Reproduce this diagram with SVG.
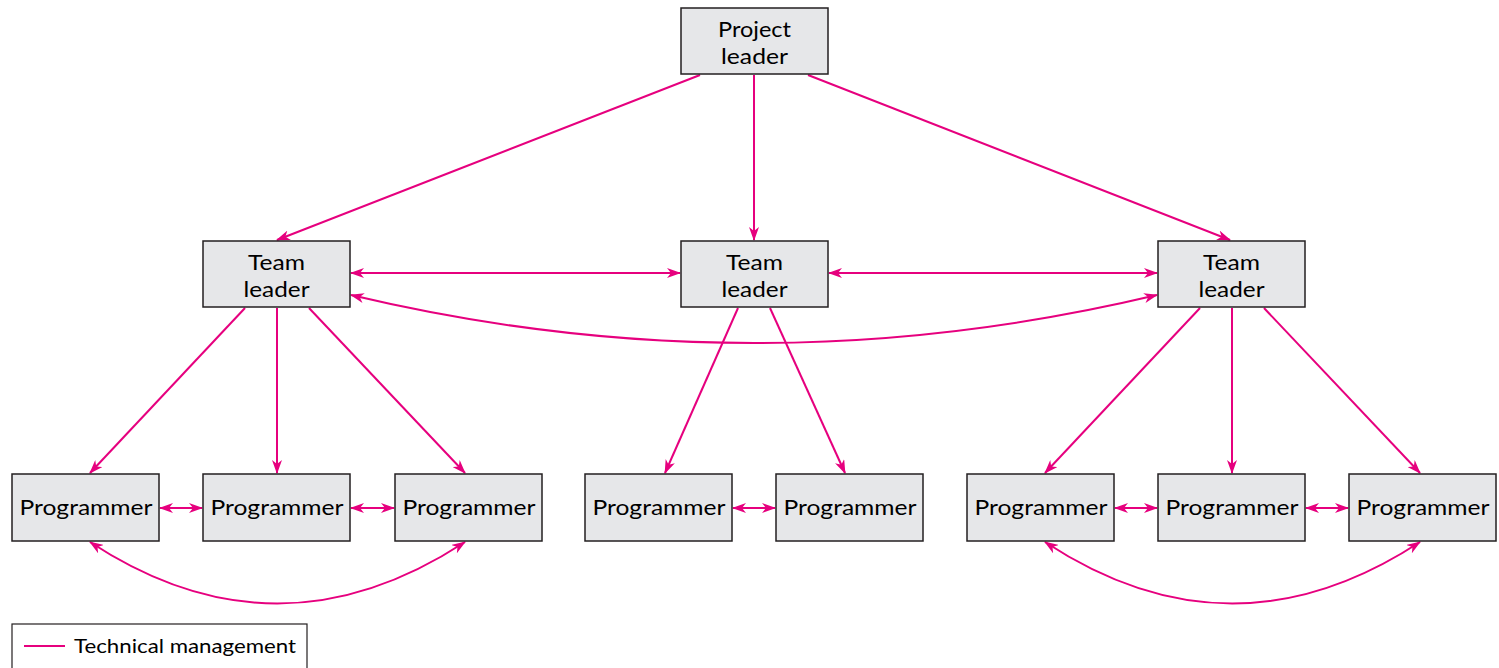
<svg xmlns="http://www.w3.org/2000/svg" width="1499" height="668" viewBox="0 0 1499 668">
<style>
.box{fill:#e6e7e9;stroke:#231f20;stroke-width:1.5}
.t{font-family:Lato,"Open Sans",sans-serif;font-size:22px;fill:#000;text-anchor:middle}
.p{font-family:Lato,"Open Sans",sans-serif;font-size:22px;fill:#000;text-anchor:middle}
.c{fill:none;stroke:#e6007e;stroke-width:2}
</style>
<defs>
<marker id="ah" viewBox="0 0 14 10" refX="13" refY="5" markerWidth="14" markerHeight="10" markerUnits="userSpaceOnUse" orient="auto-start-reverse">
<path d="M0,0 L14,5 L0,10 L4,5 z" fill="#e6007e"/>
</marker>
</defs>
<g id="connectors">
<line class="c" x1="700" y1="75" x2="277" y2="240" marker-end="url(#ah)"/>
<line class="c" x1="754" y1="75" x2="754" y2="240" marker-end="url(#ah)"/>
<line class="c" x1="808" y1="75" x2="1230" y2="240" marker-end="url(#ah)"/>
<line class="c" x1="351" y1="273" x2="680" y2="273" marker-start="url(#ah)" marker-end="url(#ah)"/>
<line class="c" x1="829" y1="273" x2="1157" y2="273" marker-start="url(#ah)" marker-end="url(#ah)"/>
<path class="c" d="M351,295 Q754,391 1157,295" marker-start="url(#ah)" marker-end="url(#ah)"/>
<line class="c" x1="245" y1="308" x2="90" y2="473" marker-end="url(#ah)"/>
<line class="c" x1="277" y1="308" x2="277" y2="473" marker-end="url(#ah)"/>
<line class="c" x1="309" y1="308" x2="465" y2="473" marker-end="url(#ah)"/>
<line class="c" x1="738" y1="308" x2="665" y2="473" marker-end="url(#ah)"/>
<line class="c" x1="770" y1="308" x2="845" y2="473" marker-end="url(#ah)"/>
<line class="c" x1="1200" y1="308" x2="1045" y2="473" marker-end="url(#ah)"/>
<line class="c" x1="1232" y1="308" x2="1232" y2="473" marker-end="url(#ah)"/>
<line class="c" x1="1264" y1="308" x2="1420" y2="473" marker-end="url(#ah)"/>
<line class="c" x1="160" y1="508" x2="202" y2="508" marker-start="url(#ah)" marker-end="url(#ah)"/>
<line class="c" x1="351" y1="508" x2="394" y2="508" marker-start="url(#ah)" marker-end="url(#ah)"/>
<line class="c" x1="733" y1="508" x2="775" y2="508" marker-start="url(#ah)" marker-end="url(#ah)"/>
<line class="c" x1="1115" y1="508" x2="1157" y2="508" marker-start="url(#ah)" marker-end="url(#ah)"/>
<line class="c" x1="1306" y1="508" x2="1348" y2="508" marker-start="url(#ah)" marker-end="url(#ah)"/>
<path class="c" d="M90,542 Q277,665 465,542" marker-start="url(#ah)" marker-end="url(#ah)"/>
<path class="c" d="M1045,542 Q1232,665 1420,542" marker-start="url(#ah)" marker-end="url(#ah)"/>
</g>
<g id="project-leader"><rect class="box" x="681" y="8" width="147" height="66"/><text class="t" x="754.5" y="37" textLength="73" lengthAdjust="spacingAndGlyphs">Project</text><text class="t" x="754.5" y="63.5" textLength="67" lengthAdjust="spacingAndGlyphs">leader</text></g>
<g id="team-leader-1"><rect class="box" x="203" y="241" width="147" height="66"/><text class="t" x="276.5" y="270" textLength="57" lengthAdjust="spacingAndGlyphs">Team</text><text class="t" x="276.5" y="296.5" textLength="66" lengthAdjust="spacingAndGlyphs">leader</text></g>
<g id="team-leader-2"><rect class="box" x="681" y="241" width="147" height="66"/><text class="t" x="754.5" y="270" textLength="57" lengthAdjust="spacingAndGlyphs">Team</text><text class="t" x="754.5" y="296.5" textLength="66" lengthAdjust="spacingAndGlyphs">leader</text></g>
<g id="team-leader-3"><rect class="box" x="1158" y="241" width="147" height="66"/><text class="t" x="1231.5" y="270" textLength="57" lengthAdjust="spacingAndGlyphs">Team</text><text class="t" x="1231.5" y="296.5" textLength="66" lengthAdjust="spacingAndGlyphs">leader</text></g>
<g id="programmer-1"><rect class="box" x="12" y="474" width="147" height="67"/><text class="p" x="86" y="515" textLength="133" lengthAdjust="spacingAndGlyphs">Programmer</text></g>
<g id="programmer-2"><rect class="box" x="203" y="474" width="147" height="67"/><text class="p" x="277" y="515" textLength="133" lengthAdjust="spacingAndGlyphs">Programmer</text></g>
<g id="programmer-3"><rect class="box" x="395" y="474" width="147" height="67"/><text class="p" x="469" y="515" textLength="133" lengthAdjust="spacingAndGlyphs">Programmer</text></g>
<g id="programmer-4"><rect class="box" x="585" y="474" width="147" height="67"/><text class="p" x="659" y="515" textLength="133" lengthAdjust="spacingAndGlyphs">Programmer</text></g>
<g id="programmer-5"><rect class="box" x="776" y="474" width="147" height="67"/><text class="p" x="850" y="515" textLength="133" lengthAdjust="spacingAndGlyphs">Programmer</text></g>
<g id="programmer-6"><rect class="box" x="967" y="474" width="147" height="67"/><text class="p" x="1041" y="515" textLength="133" lengthAdjust="spacingAndGlyphs">Programmer</text></g>
<g id="programmer-7"><rect class="box" x="1158" y="474" width="147" height="67"/><text class="p" x="1232" y="515" textLength="133" lengthAdjust="spacingAndGlyphs">Programmer</text></g>
<g id="programmer-8"><rect class="box" x="1349" y="474" width="147" height="67"/><text class="p" x="1423" y="515" textLength="133" lengthAdjust="spacingAndGlyphs">Programmer</text></g>
<g id="legend">
<rect x="12" y="624" width="295" height="50" fill="#fff" stroke="#231f20" stroke-width="1.2"/>
<line x1="24" y1="646" x2="65" y2="646" stroke="#e6007e" stroke-width="2"/>
<text x="74" y="653" textLength="222" lengthAdjust="spacingAndGlyphs" style="font-family:Lato,'Open Sans',sans-serif;font-size:20px;fill:#000">Technical management</text>
</g>
</svg>
